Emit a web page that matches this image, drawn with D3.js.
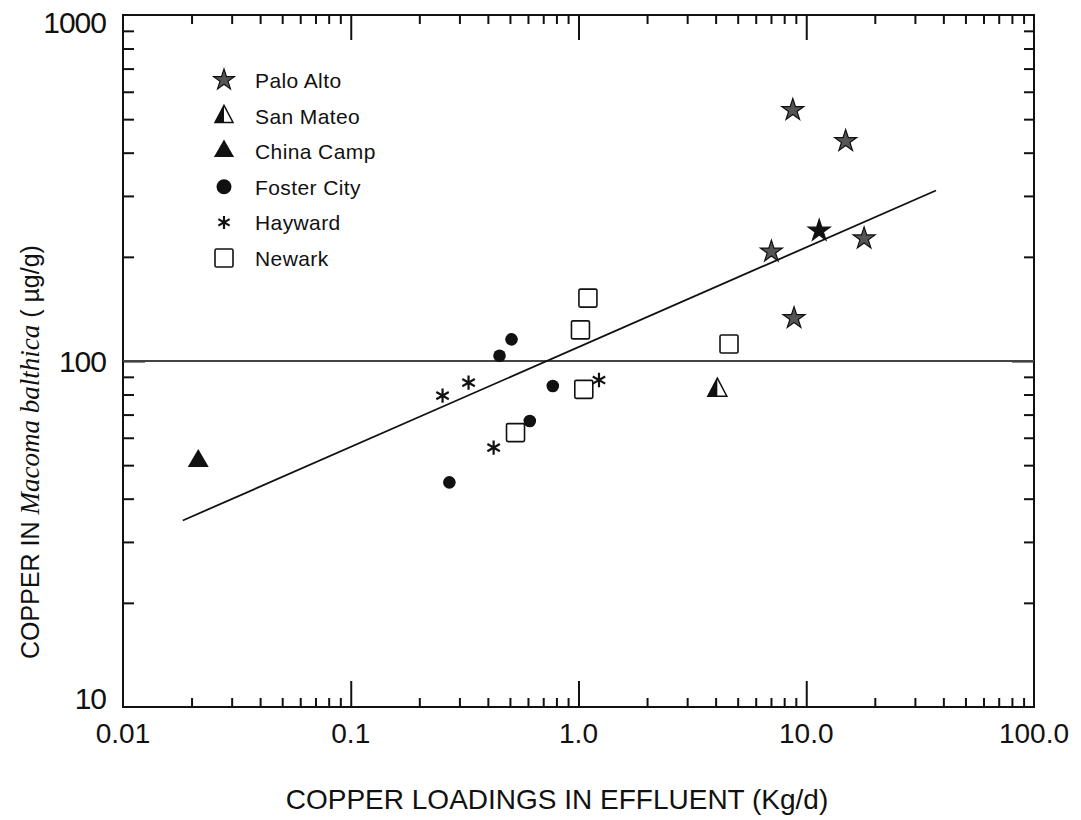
<!DOCTYPE html>
<html>
<head>
<meta charset="utf-8">
<script src="https://cdn.jsdelivr.net/npm/d3@7"></script>
<style>
body { margin: 0; background: #fff; }
text { font-family: "Liberation Sans", Arial, sans-serif; fill: #111; }
</style>
</head>
<body>
<div id="chart"></div>
<script>
// data (Kg/d vs ug/g)
var paloAltoX = [8.73, 14.9, 7.03, 11.4, 17.95, 8.84];
var paloAltoY = [531, 432, 207, 238, 226, 133];
var sanMateoX = [4.07];
var sanMateoY = [83];
var chinaCampX = [0.0214];
var chinaCampY = [51.4];
var fosterCityX = [0.508, 0.45, 0.771, 0.611, 0.271];
var fosterCityY = [115.5, 103.6, 84.7, 67.1, 44.6];
var haywardX = [0.253, 0.329, 0.424, 1.23];
var haywardY = [79.4, 86.6, 56.2, 88.1];
var newarkX = [1.10, 1.02, 1.055, 0.529, 4.58];
var newarkY = [152, 123, 82.8, 62.1, 112];

// regression line end points and the 100 ug/g reference
var fitX = [0.0183, 37.1];
var fitY = [34.6, 311];
var refLevel = 100;

var legendNames = ["Palo Alto", "San Mateo", "China Camp", "Foster City", "Hayward", "Newark"];
var xTickValues = [0.01, 0.1, 1, 10, 100];
var xTickLabels = ["0.01", "0.1", "1.0", "10.0", "100.0"];
var yTickValues = [10, 100, 1000];
var yTickLabels = ["10", "100", "1000"];

// setting up the graph
var w = 1081, h = 820;
var x0 = 123, x1 = 1034, y0 = 15, y1 = 707;

var vis = d3.select("div#chart").append("svg")
    .attr("width", w)
    .attr("height", h);
vis.append("rect").attr("width", w).attr("height", h).attr("fill", "#fff");

var x = d3.scaleLog().domain([0.01, 100]).range([x0, x1]);
var y = d3.scaleLog().domain([10, 1000]).range([y1, y0]);

var isMajorX = function(v) { return xTickValues.some(function(t) { return Math.abs(v / t - 1) < 1e-6; }); };
var isMajorY = function(v) { return yTickValues.some(function(t) { return Math.abs(v / t - 1) < 1e-6; }); };
var minorX = x.ticks().filter(function(v) { return !isMajorX(v); });
var minorY = y.ticks().filter(function(v) { return !isMajorY(v); });
var innerX = xTickValues.slice(1, -1);
var innerY = yTickValues.slice(1, -1);

function styleAxis(g) {
  g.select(".domain").remove();
  g.selectAll("line").attr("stroke", "#111").attr("stroke-width", 2);
}

// ticks on all four sides, pointing inwards
vis.append("g").attr("transform", "translate(0," + y1 + ")")
   .call(d3.axisBottom(x).tickValues(minorX).tickSize(-9).tickSizeOuter(0).tickFormat("")).call(styleAxis);
vis.append("g").attr("transform", "translate(0," + y1 + ")")
   .call(d3.axisBottom(x).tickValues(innerX).tickSize(-26).tickSizeOuter(0).tickFormat("")).call(styleAxis);
vis.append("g").attr("transform", "translate(0," + y0 + ")")
   .call(d3.axisTop(x).tickValues(minorX).tickSize(-9).tickSizeOuter(0).tickFormat("")).call(styleAxis);
vis.append("g").attr("transform", "translate(0," + y0 + ")")
   .call(d3.axisTop(x).tickValues(innerX).tickSize(-25).tickSizeOuter(0).tickFormat("")).call(styleAxis);
vis.append("g").attr("transform", "translate(" + x0 + ",0)")
   .call(d3.axisLeft(y).tickValues(minorY).tickSize(-11).tickSizeOuter(0).tickFormat("")).call(styleAxis);
vis.append("g").attr("transform", "translate(" + x0 + ",0)")
   .call(d3.axisLeft(y).tickValues(innerY).tickSize(-22).tickSizeOuter(0).tickFormat("")).call(styleAxis);
vis.append("g").attr("transform", "translate(" + x1 + ",0)")
   .call(d3.axisRight(y).tickValues(minorY).tickSize(-10).tickSizeOuter(0).tickFormat("")).call(styleAxis);
vis.append("g").attr("transform", "translate(" + x1 + ",0)")
   .call(d3.axisRight(y).tickValues(innerY).tickSize(-22).tickSizeOuter(0).tickFormat("")).call(styleAxis);

// frame
vis.append("rect")
   .attr("x", x0).attr("y", y0)
   .attr("width", x1 - x0).attr("height", y1 - y0)
   .attr("fill", "none").attr("stroke", "#111").attr("stroke-width", 2);

// tick labels
vis.selectAll("text.xlab")
   .data(xTickValues)
   .enter().append("text")
   .attr("class", "xlab")
   .attr("x", function(d) { return x(d); })
   .attr("y", 743)
   .attr("text-anchor", "middle")
   .style("font-size", "28px")
   .text(function(d, i) { return xTickLabels[i]; });

vis.selectAll("text.ylab")
   .data(yTickValues)
   .enter().append("text")
   .attr("class", "ylab")
   .attr("x", 106)
   .attr("y", function(d) { return Math.min(Math.max(y(d), 22), 698) + 11; })
   .attr("text-anchor", "end")
   .style("font-size", "30px")
   .style("letter-spacing", "-1px")
   .text(function(d, i) { return yTickLabels[i]; });

// axis titles
vis.append("text")
   .attr("x", 557).attr("y", 809)
   .attr("text-anchor", "middle")
   .style("font-size", "28px")
   .text("COPPER LOADINGS IN EFFLUENT (Kg/d)");

var yt = vis.append("text")
   .attr("transform", "translate(39,452) rotate(-90)")
   .attr("text-anchor", "middle")
   .style("font-size", "25px");
yt.append("tspan").text("COPPER IN ");
yt.append("tspan").style("font-family", "'Liberation Serif', 'Times New Roman', serif").style("font-style", "italic").style("font-size", "27px").text("Macoma balthica");
yt.append("tspan").text(" ( \u00b5g/g)");

// reference line at 100 and the fitted line
vis.append("line")
   .attr("x1", x0).attr("x2", x1)
   .attr("y1", y(refLevel)).attr("y2", y(refLevel))
   .attr("stroke", "#444").attr("stroke-width", 2);

vis.append("path")
   .datum(fitX.map(function(d, i) { return [d, fitY[i]]; }))
   .attr("d", d3.line().x(function(d) { return x(d[0]); }).y(function(d) { return y(d[1]); }))
   .attr("fill", "none").attr("stroke", "#111").attr("stroke-width", 1.8);

// symbols
function halfTriangle(g, s) {
  var hgt = s * 0.95, half = s / 2;
  g.append("path")
   .attr("d", "M0," + (-hgt * 0.6) + "L" + half + "," + (hgt * 0.4) + "L" + (-half) + "," + (hgt * 0.4) + "Z")
   .attr("fill", "#fff").attr("stroke", "#111").attr("stroke-width", 1.5);
  g.append("path")
   .attr("d", "M0," + (-hgt * 0.6) + "L0," + (hgt * 0.4) + "L" + (-half) + "," + (hgt * 0.4) + "Z")
   .attr("fill", "#111");
}

function asterisk(r) {
  var p = d3.path();
  [90, 30, 150].forEach(function(a) {
    var dx = r * Math.cos(a * Math.PI / 180), dy = r * Math.sin(a * Math.PI / 180);
    p.moveTo(-dx, -dy);
    p.lineTo(dx, dy);
  });
  return p.toString();
}

function drawSymbol(g, kind, big, solid) {
  if (kind === 0) {
    g.append("path").attr("d", d3.symbol().type(d3.symbolStar).size(big ? 135 : 150)())
     .attr("fill", solid ? "#111" : "#555").attr("stroke", "#111").attr("stroke-width", 1.2);
  } else if (kind === 1) {
    halfTriangle(g, big ? 18 : 19);
  } else if (kind === 2) {
    g.append("path").attr("d", d3.symbol().type(d3.symbolTriangle).size(big ? 175 : 190)())
     .attr("fill", "#111");
  } else if (kind === 3) {
    g.append("circle").attr("r", big ? 7.5 : 6.3).attr("fill", "#111");
  } else if (kind === 4) {
    g.append("path").attr("d", asterisk(big ? 6.5 : 7.2))
     .attr("fill", "none").attr("stroke", "#111").attr("stroke-width", 2.2);
  } else {
    var s = 18;
    g.append("rect").attr("x", -s / 2).attr("y", -s / 2).attr("width", s).attr("height", s).attr("rx", 1.5)
     .attr("fill", "#fff").attr("stroke", "#111").attr("stroke-width", 1.6);
  }
}

var series = [
  [paloAltoX, paloAltoY],
  [sanMateoX, sanMateoY],
  [chinaCampX, chinaCampY],
  [fosterCityX, fosterCityY],
  [haywardX, haywardY],
  [newarkX, newarkY]
];
var solidStar = 3; // the one all-black Palo Alto star

// draw order: squares first so the dots sit on top of them
[5, 0, 1, 2, 3, 4].forEach(function(k) {
  var xs = series[k][0], ys = series[k][1];
  vis.selectAll("g.pt" + k)
     .data(xs.map(function(d, i) { return [d, ys[i]]; }))
     .enter().append("g")
     .attr("class", "pt" + k)
     .attr("transform", function(d) { return "translate(" + x(d[0]) + "," + y(d[1]) + ")"; })
     .each(function(d, i) { drawSymbol(d3.select(this), k, false, k === 0 && i === solidStar); });
});

// legend
var leg = vis.selectAll("g.leg")
   .data(legendNames)
   .enter().append("g")
   .attr("class", "leg")
   .attr("transform", function(d, i) { return "translate(224," + (80 + i * 35.6) + ")"; });
leg.each(function(d, i) { drawSymbol(d3.select(this), i, true, false); });
leg.append("text")
   .attr("x", 31).attr("y", 8)
   .style("font-size", "21px")
   .style("letter-spacing", "0.4px")
   .text(function(d) { return d; });
</script>
</body>
</html>
